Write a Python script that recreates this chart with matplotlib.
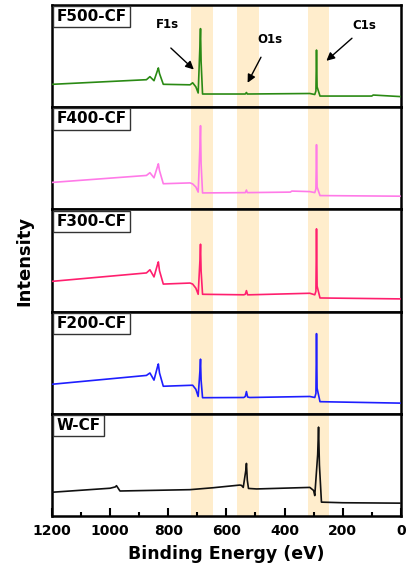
import numpy as np
import matplotlib
matplotlib.use("Agg")
import matplotlib.pyplot as plt
from matplotlib.ticker import MultipleLocator

plt.rcParams['font.family'] = ['DejaVu Sans']

# survey spectra, binding energy (eV) vs relative intensity (per-panel scale 0..1)
samples = ["F500-CF", "F400-CF", "F300-CF", "F200-CF", "W-CF"]
colors = ["#2a8a14", "#ff7ae8", "#ff1f6e", "#1e1eff", "#111111"]

f500_ev = [1198, 875, 863, 849, 837, 834, 830, 817, 725, 716, 705, 697, 691, 689, 687, 682, 535, 531, 528, 313, 296, 292, 290, 288, 278, 100, 95, 3]
f500_int = [0.225, 0.27, 0.30, 0.26, 0.36, 0.385, 0.33, 0.225, 0.22, 0.24, 0.20, 0.14, 0.60, 0.77, 0.45, 0.13, 0.13, 0.145, 0.13, 0.135, 0.125, 0.16, 0.56, 0.20, 0.11, 0.11, 0.12, 0.105]

f400_ev = [1198, 875, 863, 849, 837, 834, 830, 817, 725, 716, 705, 697, 691, 689, 687, 682, 535, 531, 528, 380, 375, 313, 296, 292, 290, 288, 278, 3]
f400_int = [0.265, 0.333, 0.36, 0.31, 0.42, 0.447, 0.38, 0.252, 0.26, 0.25, 0.22, 0.17, 0.62, 0.82, 0.45, 0.162, 0.165, 0.19, 0.165, 0.17, 0.18, 0.175, 0.165, 0.20, 0.634, 0.22, 0.136, 0.13]

f300_ev = [1198, 875, 863, 849, 837, 834, 830, 817, 725, 716, 705, 697, 691, 689, 687, 682, 540, 535, 531, 527, 520, 313, 296, 292, 290, 288, 278, 3]
f300_int = [0.297, 0.379, 0.41, 0.34, 0.46, 0.487, 0.40, 0.27, 0.28, 0.27, 0.23, 0.17, 0.50, 0.66, 0.40, 0.17, 0.165, 0.17, 0.206, 0.165, 0.165, 0.18, 0.165, 0.20, 0.81, 0.25, 0.134, 0.125]

f200_ev = [1198, 875, 863, 849, 837, 834, 830, 817, 716, 705, 697, 691, 689, 687, 682, 540, 535, 531, 527, 520, 313, 296, 292, 290, 288, 278, 3]
f200_int = [0.29, 0.376, 0.40, 0.33, 0.46, 0.488, 0.40, 0.27, 0.28, 0.24, 0.17, 0.42, 0.535, 0.33, 0.158, 0.16, 0.17, 0.218, 0.165, 0.16, 0.17, 0.16, 0.20, 0.785, 0.25, 0.119, 0.105]

wcf_ev = [1198, 1000, 982, 978, 966, 725, 645, 554, 548, 542, 533, 531, 528, 524, 496, 313, 300, 296, 286, 283, 280, 273, 200, 3]
wcf_int = [0.233, 0.272, 0.285, 0.297, 0.245, 0.258, 0.277, 0.303, 0.30, 0.28, 0.45, 0.515, 0.35, 0.27, 0.265, 0.28, 0.25, 0.20, 0.60, 0.87, 0.50, 0.136, 0.13, 0.126]

spectra = [(f500_ev, f500_int), (f400_ev, f400_int), (f300_ev, f300_int),
           (f200_ev, f200_int), (wcf_ev, wcf_int)]

# shaded regions for F1s, O1s, C1s
bands = [(647, 720), (489, 564), (248, 320)]

fig = plt.figure(figsize=(4.09, 5.68), dpi=100)
left, right = 0.127, 0.980
top, bottom = 0.991, 0.0915
h = (top - bottom) / 5

axes = []
for i, (name, c, (ev, inten)) in enumerate(zip(samples, colors, spectra)):
    ax = fig.add_axes([left, top - (i + 1) * h, right - left, h])
    for lo, hi in bands:
        ax.axvspan(lo, hi, color="orange", alpha=0.2, lw=0, zorder=0)
    ax.plot(ev, inten, color=c, lw=1.2, zorder=3)
    ax.set_xlim(1200, 0)
    ax.set_ylim(0, 1)
    ax.set_yticks([])
    for s in ax.spines.values():
        s.set_linewidth(1.8)
    # sample name in a box tucked into the top-left corner
    ax.annotate(name, xy=(0, 1), xycoords="axes fraction", xytext=(3.2, -3.0),
                textcoords="offset points", ha="left", va="top",
                fontsize=11, fontweight="bold",
                bbox=dict(boxstyle="square,pad=0.2", fc="white", ec="#333333", lw=1.0),
                zorder=5)
    if i < 4:
        ax.set_xticks([])
    else:
        ax.xaxis.set_major_locator(MultipleLocator(200))
        ax.xaxis.set_minor_locator(MultipleLocator(100))
        ax.tick_params(axis="x", which="major", direction="in", length=6, width=1.5,
                       labelsize=10, pad=6)
        ax.tick_params(axis="x", which="minor", direction="in", length=3, width=1.5)
        for lab in ax.get_xticklabels():
            lab.set_fontweight("bold")
        ax.set_xlabel("Binding Energy (eV)", fontsize=12.5, fontweight="bold", labelpad=5)
    axes.append(ax)

# peak labels and arrows on the top panel
ax0 = axes[0]
arrow = dict(arrowstyle="-|>", color="black", lw=1.0, mutation_scale=12,
             shrinkA=0, shrinkB=0)
peak_labels = [("F1s", 804, 0.81, (791, 0.58), (712, 0.37)),
               ("O1s", 450, 0.665, (481, 0.49), (527, 0.24)),
               ("C1s", 124, 0.80, (168, 0.676), (256, 0.455))]
for lab, tx, ty, tail, head in peak_labels:
    ax0.text(tx, ty, lab, fontsize=8.5, fontweight="bold", ha="center", va="center")
    ax0.annotate("", xy=head, xytext=tail, arrowprops=arrow)

fig.text(0.06, (top + bottom) / 2, "Intensity", rotation=90, ha="center", va="center",
         fontsize=13, fontweight="bold")

fig.savefig("out.png", dpi=100)
